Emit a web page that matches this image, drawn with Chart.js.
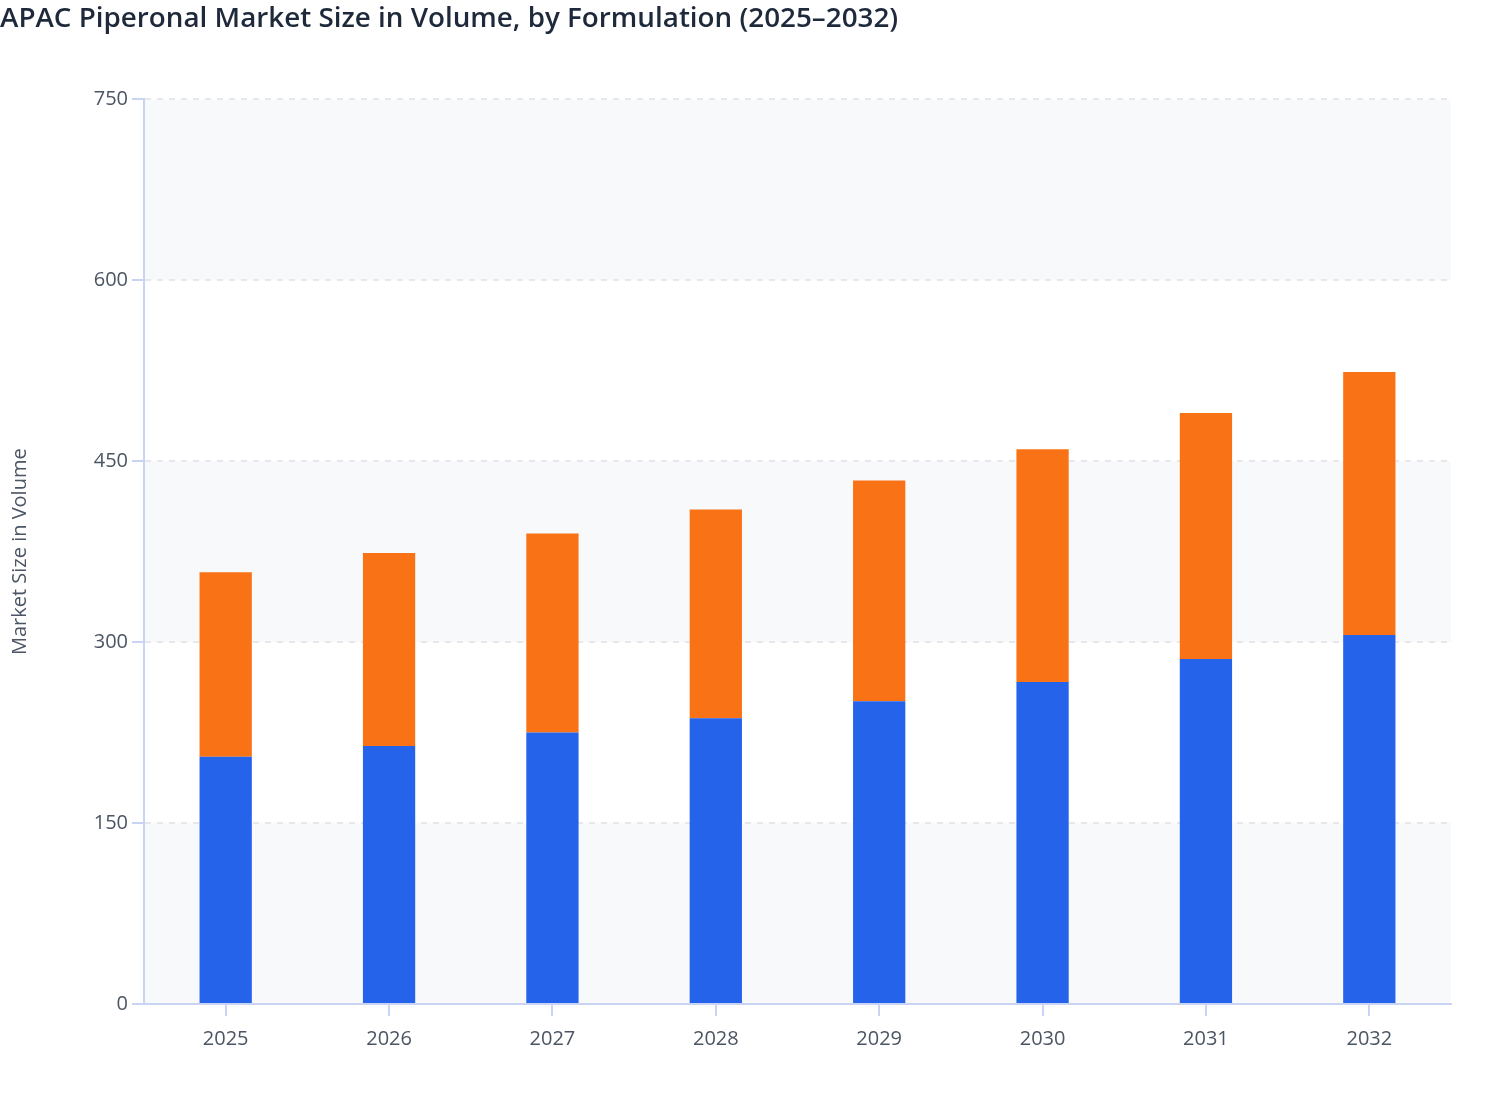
<!DOCTYPE html>
<html>
<head>
<meta charset="utf-8">
<title>APAC Piperonal Market Size in Volume</title>
<script src="https://cdn.jsdelivr.net/npm/chart.js@4.4.0/dist/chart.umd.min.js"></script>
<style>
  html, body { margin: 0; padding: 0; background: #ffffff; }
  #wrap { width: 1508px; height: 1120px; position: relative; }
</style>
</head>
<body>
<div id="wrap"><canvas id="chart"></canvas></div>
<script>
// Data
const years = ['2025', '2026', '2027', '2028', '2029', '2030', '2031', '2032'];
const solidValues = [205, 214, 225, 237, 251, 267, 286, 306];
const liquidValues = [153, 160, 165, 173, 183, 193, 204, 218];
const yTicks = [0, 150, 300, 450, 600, 750];

const fontFamily = '"Open Sans", "Noto Sans", sans-serif';
const axisBlue = '#c9d3f3';

// Alternate shaded bands behind the bars
const bandPlugin = {
  id: 'bands',
  beforeDraw(chart) {
    const { ctx, chartArea, scales } = chart;
    ctx.save();
    ctx.fillStyle = '#f8f9fb';
    for (let i = 0; i < yTicks.length - 1; i += 2) {
      const yTop = scales.y.getPixelForValue(yTicks[i + 1]);
      const yBottom = scales.y.getPixelForValue(yTicks[i]);
      ctx.fillRect(chartArea.left, yTop, chartArea.right - chartArea.left, yBottom - yTop);
    }
    ctx.restore();
  }
};

new Chart(document.getElementById('chart'), {
  type: 'bar',
  data: {
    labels: years,
    datasets: [
      {
        label: 'Solid',
        data: solidValues,
        backgroundColor: '#2563eb',
        barPercentage: 0.32,
        categoryPercentage: 1.0
      },
      {
        label: 'Liquid',
        data: liquidValues,
        backgroundColor: '#f97316',
        barPercentage: 0.32,
        categoryPercentage: 1.0
      }
    ]
  },
  options: {
    responsive: true,
    maintainAspectRatio: false,
    animation: false,
    layout: { padding: { left: 0, right: 57, top: 0, bottom: 0 } },
    plugins: {
      legend: { display: false },
      tooltip: { enabled: false },
      title: {
        display: true,
        text: 'APAC Piperonal Market Size in Volume, by Formulation (2025–2032)',
        align: 'start',
        color: '#1e293b',
        font: { family: fontFamily, size: 27.8, weight: '600' },
        padding: { top: 2, bottom: 64 }
      }
    },
    scales: {
      x: {
        stacked: true,
        grid: {
          offset: false,
          drawOnChartArea: false,
          drawTicks: true,
          tickLength: 12,
          color: axisBlue,
          lineWidth: 2
        },
        border: { display: true, color: axisBlue, width: 2 },
        ticks: {
          color: '#4b5563',
          padding: 11,
          font: { family: fontFamily, size: 20 }
        },
        afterFit(scale) { scale.height = 116; }
      },
      y: {
        stacked: true,
        min: 0,
        max: 750,
        afterBuildTicks(scale) {
          scale.ticks = yTicks.map(v => ({ value: v }));
        },
        grid: {
          color: ctx => (ctx.tick && ctx.tick.value === 0 ? 'rgba(0,0,0,0)' : '#e6e8ec'),
          lineWidth: 2,
          tickLength: 12,
          tickColor: axisBlue,
          tickBorderDash: [],
          tickWidth: 2
        },
        border: { display: true, color: axisBlue, width: 2, dash: [6, 6] },
        ticks: {
          color: '#4b5563',
          padding: 4,
          font: { family: fontFamily, size: 20 }
        },
        title: {
          display: true,
          text: 'Market Size in Volume',
          color: '#4b5563',
          font: { family: fontFamily, size: 20 },
          padding: { top: 8, bottom: 0 }
        },
        afterFit(scale) { scale.width = 144; }
      }
    }
  },
  plugins: [bandPlugin]
});
</script>
</body>
</html>
